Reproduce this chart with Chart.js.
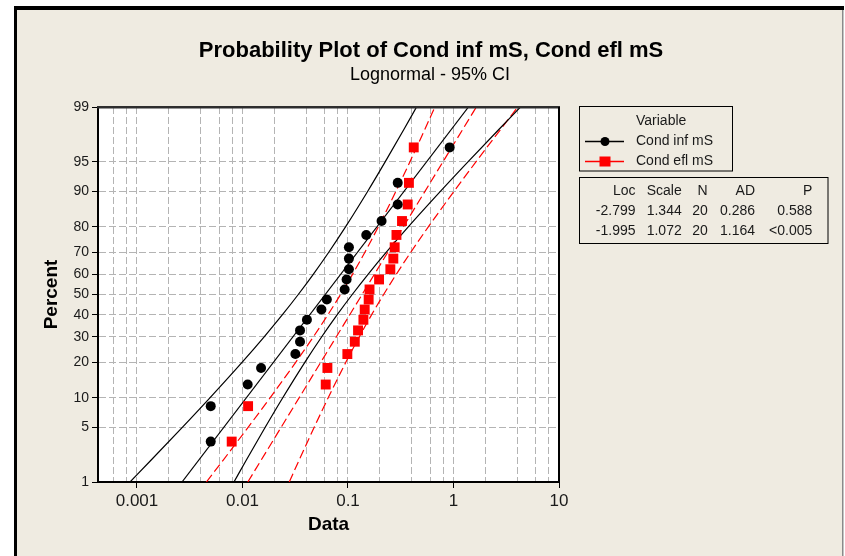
<!DOCTYPE html>
<html>
<head>
<meta charset="utf-8">
<script src="https://cdn.jsdelivr.net/npm/chart.js@4/dist/chart.umd.min.js"></script>
<style>
html,body{margin:0;padding:0;background:#ffffff;}
#wrap{width:845px;height:556px;position:relative;}
</style>
</head>
<body>
<div id="wrap"><canvas id="c" width="845" height="556"></canvas></div>
<script>
// ---------- data ----------
const TITLE = 'Probability Plot of Cond inf mS, Cond efl mS';
const SUBTITLE = 'Lognormal - 95% CI';
const SERIES_NAMES = ['Cond inf mS', 'Cond efl mS'];
const LEGEND_TITLE = 'Variable';
const X_TITLE = 'Data';
const Y_TITLE = 'Percent';

// plotting positions (percent) of the 20 ordered observations
const PCT = [3.4, 8.3, 13.2, 18.1, 23.0, 27.9, 32.8, 37.7, 42.6, 47.5,
             52.5, 57.4, 62.3, 67.2, 72.1, 77.0, 81.9, 86.8, 91.7, 96.6];
const COND_INF = [0.0050, 0.0050, 0.0112, 0.0150, 0.0317, 0.0351, 0.0351, 0.0408, 0.056, 0.063,
                  0.093, 0.097, 0.102, 0.102, 0.102, 0.149, 0.208, 0.296, 0.296, 0.92];
const COND_EFL = [0.0079, 0.0113, 0.0615, 0.0638, 0.0986, 0.116, 0.1245, 0.140, 0.144, 0.157,
                  0.160, 0.197, 0.252, 0.269, 0.277, 0.288, 0.325, 0.368, 0.378, 0.42];

// fitted lines (end points at 1% and 99%)
const FIT_PCT = [1, 99];
const INF_FIT = [0.00267, 1.387];
const EFL_FIT = [0.01123, 1.647];

// 95% confidence bands
const CI_PCT = [1, 2, 5, 10, 20, 30, 40, 50, 60, 70, 80, 90, 95, 98, 99];
const INF_CI_LO = [0.000859, 0.001363, 0.002704, 0.00491, 0.009897, 0.01605, 0.02381, 0.03378, 0.04703, 0.06572, 0.09506, 0.1539, 0.2250, 0.3405, 0.4465];
const INF_CI_HI = [0.008299, 0.01088, 0.01647, 0.02408, 0.03898, 0.05638, 0.07879, 0.1097, 0.1556, 0.2309, 0.3744, 0.7546, 1.3705, 2.718, 4.312];
const EFL_CI_LO = [0.004547, 0.006572, 0.01135, 0.01826, 0.03194, 0.04697, 0.06433, 0.08503, 0.1107, 0.1446, 0.1941, 0.2850, 0.3858, 0.5370, 0.6666];
const EFL_CI_HI = [0.02775, 0.03445, 0.04795, 0.0649, 0.09532, 0.128, 0.1671, 0.2176, 0.2876, 0.3939, 0.5792, 1.013, 1.6307, 2.815, 4.068];

// statistics table
const STAT_HEAD = ['Loc', 'Scale', 'N', 'AD', 'P'];
const STAT_INF = ['-2.799', '1.344', '20', '0.286', '0.588'];
const STAT_EFL = ['-1.995', '1.072', '20', '1.164', '<0.005'];

// axes
const Y_TICKS = [1, 5, 10, 20, 30, 40, 50, 60, 70, 80, 90, 95, 99];
const X_GRID = [0.0006, 0.0008, 0.001, 0.002, 0.004, 0.006, 0.008, 0.01, 0.02, 0.04, 0.06, 0.08,
                0.1, 0.2, 0.4, 0.6, 0.8, 1, 2, 4, 6, 8, 10];
const X_MAJOR = [0.001, 0.01, 0.1, 1, 10];
const X_TICK_LABELS = ['0.001', '0.01', '0.1', '1', '10'];
const X_MIN = 0.000427, X_MAX = 10;

// ---------- styling ----------
const FONT = '"Liberation Sans", Arial, sans-serif';
const BG = '#EFEBE1';
const GRID = '#B4B4B4';
const RED = '#FF0000';

// inverse standard normal CDF (scale transform of the probability axis)
function probit(p) {
  const a=[-3.969683028665376e+01,2.209460984245205e+02,-2.759285104469687e+02,1.383577518672690e+02,-3.066479806614716e+01,2.506628277459239e+00];
  const b=[-5.447609879822406e+01,1.615858368580409e+02,-1.556989798598866e+02,6.680131188771972e+01,-1.328068155288572e+01];
  const c=[-7.784894002430293e-03,-3.223964580411365e-01,-2.400758277161838e+00,-2.549732539343734e+00,4.374664141464968e+00,2.938163982698783e+00];
  const d=[7.784695709041462e-03,3.224671290700398e-01,2.445134137142996e+00,3.754408661907416e+00];
  const pl = 0.02425, ph = 1 - pl;
  let q, r;
  if (p < pl) { q = Math.sqrt(-2*Math.log(p)); return (((((c[0]*q+c[1])*q+c[2])*q+c[3])*q+c[4])*q+c[5])/((((d[0]*q+d[1])*q+d[2])*q+d[3])*q+1); }
  if (p <= ph) { q = p - 0.5; r = q*q; return (((((a[0]*r+a[1])*r+a[2])*r+a[3])*r+a[4])*r+a[5])*q/(((((b[0]*r+b[1])*r+b[2])*r+b[3])*r+b[4])*r+1); }
  q = Math.sqrt(-2*Math.log(1-p)); return -(((((c[0]*q+c[1])*q+c[2])*q+c[3])*q+c[4])*q+c[5])/((((d[0]*q+d[1])*q+d[2])*q+d[3])*q+1);
}

class ProbitScale extends Chart.LinearScale {
  static id = 'probit';
  static defaults = {};
  buildTicks() { return Y_TICKS.map(v => ({ value: v })); }
  _z(v) { return probit(v / 100); }
  getPixelForValue(value) {
    const z0 = this._z(this.min), z1 = this._z(this.max);
    return this.getPixelForDecimal((this._z(value) - z0) / (z1 - z0));
  }
  getValueForPixel(pixel) {
    return this.min + this.getDecimalForPixel(pixel) * (this.max - this.min);
  }
}
Chart.register(ProbitScale);

const toXY = (xs, ps) => xs.map((x, i) => ({ x: x, y: ps[i] }));

const lineDs = (label, xs, ps, color, dash, order) => ({
  label: label, data: toXY(xs, ps), showLine: true, pointRadius: 0,
  borderColor: color, borderWidth: 1.2, borderDash: dash, fill: false,
  cubicInterpolationMode: 'monotone', order: order
});

const decorPlugin = {
  id: 'decor',
  beforeDraw(chart) {
    const { ctx, chartArea: a } = chart;
    ctx.save();
    ctx.fillStyle = '#ffffff'; ctx.fillRect(0, 0, chart.width, chart.height);
    ctx.fillStyle = BG; ctx.fillRect(17, 10, 825, 546);
    ctx.fillStyle = '#000000';
    ctx.fillRect(14, 6, 830, 4);
    ctx.fillRect(14, 6, 3, 550);
    ctx.fillStyle = '#8a8a8a'; ctx.fillRect(842, 10, 1.5, 546);
    ctx.fillStyle = '#ffffff';
    ctx.fillRect(a.left, a.top, a.right - a.left, a.bottom - a.top);
    ctx.restore();
  },
  afterDraw(chart) {
    const { ctx, chartArea: a } = chart;
    ctx.save();
    // plot frame (top / right)
    ctx.fillStyle = '#2e2e2e';
    ctx.fillRect(a.left - 1, a.top - 1, a.right - a.left + 2, 2.5);
    ctx.fillStyle = '#000000';
    ctx.fillRect(a.right - 1, a.top, 2, a.bottom - a.top);

    // titles
    ctx.fillStyle = '#000000';
    ctx.textAlign = 'center';
    ctx.textBaseline = 'alphabetic';
    ctx.font = 'bold 22px ' + FONT;
    ctx.fillText(TITLE, 431, 57);
    ctx.font = '18px ' + FONT;
    ctx.fillText(SUBTITLE, 430, 80);

    // legend
    ctx.lineWidth = 1;
    ctx.strokeStyle = '#000000';
    ctx.strokeRect(579.5, 106.5, 153, 64.5);
    ctx.font = '14px ' + FONT;
    ctx.fillStyle = '#1a1a1a';
    ctx.textAlign = 'left';
    ctx.textBaseline = 'middle';
    ctx.fillText(LEGEND_TITLE, 636, 121.5);
    const rows = [141.5, 161.5];
    const ds = chart.data.datasets;
    [0, 1].forEach(i => {
      const y = rows[i];
      const col = ds[i].backgroundColor;
      ctx.strokeStyle = col; ctx.lineWidth = 1.5; ctx.setLineDash([]);
      ctx.beginPath(); ctx.moveTo(585, y); ctx.lineTo(624, y); ctx.stroke();
      ctx.fillStyle = col;
      if (ds[i].pointStyle === 'circle') {
        ctx.beginPath(); ctx.arc(605, y, 4.5, 0, Math.PI * 2); ctx.fill();
      } else {
        ctx.fillRect(599.5, y - 5, 11, 10);
      }
      ctx.fillStyle = '#1a1a1a';
      ctx.fillText(SERIES_NAMES[i], 636, y);
    });

    // statistics table
    ctx.lineWidth = 1; ctx.strokeStyle = '#000000';
    ctx.strokeRect(579.5, 177.5, 248.5, 66);
    ctx.textAlign = 'right';
    const colsX = [635.5, 681.7, 707.7, 755, 812.3];
    const tRows = [[STAT_HEAD, 191], [STAT_INF, 211], [STAT_EFL, 231]];
    tRows.forEach(([vals, y]) => {
      vals.forEach((t, j) => ctx.fillText(t, colsX[j], y));
    });
    ctx.restore();
  }
};

Chart.defaults.font.family = FONT;

new Chart(document.getElementById('c'), {
  type: 'scatter',
  data: {
    datasets: [
      { label: SERIES_NAMES[0], data: toXY(COND_INF, PCT), showLine: false, pointStyle: 'circle',
        pointRadius: 5, backgroundColor: '#000000', borderColor: '#000000', pointBorderWidth: 0, order: 0 },
      { label: SERIES_NAMES[1], data: toXY(COND_EFL, PCT), showLine: false, pointStyle: 'rect',
        pointRadius: 7, backgroundColor: RED, borderColor: RED, pointBorderWidth: 0, order: 1 },
      lineDs('inf fit', INF_FIT, FIT_PCT, '#000000', [], 2),
      lineDs('inf CI lower', INF_CI_LO, CI_PCT, '#000000', [], 3),
      lineDs('inf CI upper', INF_CI_HI, CI_PCT, '#000000', [], 4),
      lineDs('efl fit', EFL_FIT, FIT_PCT, RED, [9, 4], 5),
      lineDs('efl CI lower', EFL_CI_LO, CI_PCT, RED, [9, 4], 6),
      lineDs('efl CI upper', EFL_CI_HI, CI_PCT, RED, [9, 4], 7)
    ]
  },
  options: {
    responsive: false,
    devicePixelRatio: 1,
    animation: false,
    events: [],
    layout: { padding: { top: 107, right: 286, bottom: 0, left: 0 } },
    plugins: { legend: { display: false }, tooltip: { enabled: false }, title: { display: false } },
    scales: {
      x: {
        type: 'logarithmic', min: X_MIN, max: X_MAX, bounds: 'data',
        afterBuildTicks: s => { s.ticks = X_GRID.map(v => ({ value: v })); },
        afterFit: s => { s.height = 74; s.paddingLeft = 0; s.paddingRight = 0; },
        grid: {
          color: GRID, lineWidth: 1, drawTicks: true, tickLength: 6, tickColor: '#000000',
          tickWidth: ctx => (ctx.tick && X_MAJOR.includes(ctx.tick.value)) ? 1 : 0
        },
        border: { display: true, color: '#000000', width: 2, dash: [7, 3] },
        ticks: {
          autoSkip: false, maxRotation: 0, minRotation: 0, padding: 3,
          color: '#1a1a1a', font: { size: 17 },
          callback: v => { const i = X_MAJOR.indexOf(v); return i >= 0 ? X_TICK_LABELS[i] : ''; }
        },
        title: { display: true, text: X_TITLE, color: '#000000',
                 font: { size: 19, weight: 'bold' }, padding: { top: 0, bottom: 20 } }
      },
      y: {
        type: 'probit', min: 1, max: 99, bounds: 'data',
        afterFit: s => { s.width = 98; s.paddingTop = 0; s.paddingBottom = 0; },
        grid: { color: GRID, lineWidth: 1, drawTicks: true, tickLength: 6, tickColor: '#000000', tickWidth: 1 },
        border: { display: true, color: '#000000', width: 2, dash: [7, 3] },
        ticks: { autoSkip: false, padding: 3, color: '#1a1a1a', font: { size: 14 }, callback: v => String(v) },
        title: { display: true, text: Y_TITLE, color: '#000000',
                 font: { size: 19, weight: 'bold' }, padding: { top: 40, bottom: 0 } }
      }
    }
  },
  plugins: [decorPlugin]
});
</script>
</body>
</html>
